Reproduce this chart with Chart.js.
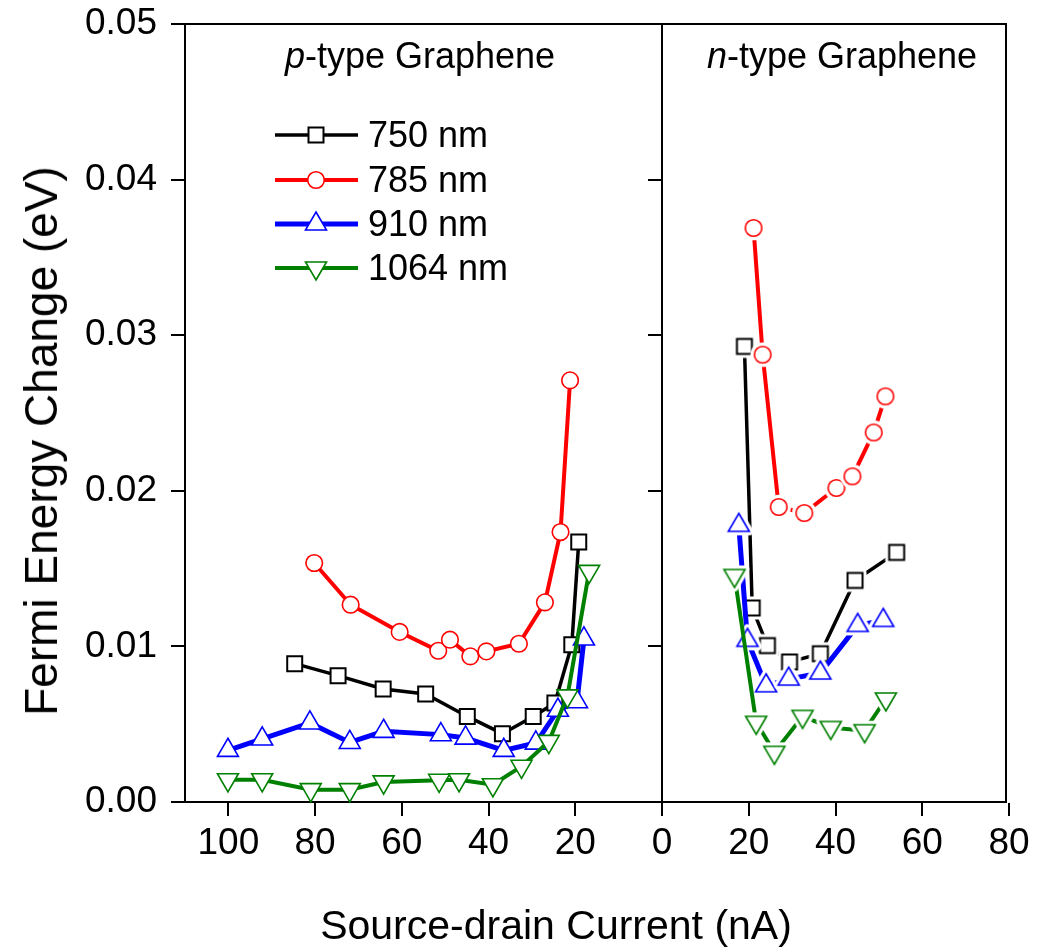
<!DOCTYPE html>
<html>
<head>
<meta charset="utf-8">
<script src="https://cdn.jsdelivr.net/npm/chart.js@4.4.1/dist/chart.umd.min.js"></script>
<style>
  body { margin: 0; background: #fff; }
  #wrap {
    position: relative;
    width: 1045px;
    height: 951px;
    overflow: hidden;
    font-family: "Liberation Sans", Arial, sans-serif;
    color: #000;
  }
  #wrap canvas { position: absolute; left: 0; top: 0; }
  .txt { position: absolute; white-space: nowrap; line-height: 1; }
  .panel-title { font-size: 36px; top: 37.5px; transform: translateX(-50%); }
  .x-title { font-size: 41px; left: 556px; top: 905px; transform: translateX(-50%); }
  .y-title {
    font-size: 46px;
    left: 41px;
    top: 441px;
    transform: translate(-50%, -50%) rotate(-90deg);
  }
</style>
</head>
<body>
<div id="wrap">
  <canvas id="pChart" width="1045" height="951"></canvas>
  <canvas id="nChart" width="1045" height="951"></canvas>
  <div class="txt panel-title" style="left:420px"><i>p</i>-type Graphene</div>
  <div class="txt panel-title" style="left:842px"><i>n</i>-type Graphene</div>
  <div class="txt x-title">Source-drain Current (nA)</div>
  <div class="txt y-title">Fermi Energy Change (eV)</div>
</div>
<script>
const FONT = '"Liberation Sans", Arial, sans-serif';

const WAVELENGTHS = ["750 nm", "785 nm", "910 nm", "1064 nm"];
const Y_TICKS = [0, 0.01, 0.02, 0.03, 0.04, 0.05];
const X_TICKS_P = [0, 20, 40, 60, 80, 100];
const X_TICKS_N = [0, 20, 40, 60, 80];

// p-type panel (current axis runs right to left)
const P_CURRENT_750 = [84.7, 74.7, 64.3, 54.5, 44.9, 36.8, 29.7, 24.7, 20.8, 19.2];
const P_ENERGY_750 = [0.00889, 0.00812, 0.00726, 0.00694, 0.0055, 0.00439, 0.0055, 0.00636, 0.01011, 0.01671];
const P_CURRENT_785 = [80.2, 71.8, 60.5, 51.6, 48.9, 44.2, 40.5, 33.0, 27.0, 23.4, 21.2];
const P_ENERGY_785 = [0.01536, 0.01268, 0.01093, 0.00972, 0.01043, 0.00936, 0.00968, 0.01017, 0.01283, 0.01735, 0.0271];
const P_CURRENT_910 = [100.1, 92.2, 81.2, 72.0, 64.2, 51.0, 45.3, 36.5, 29.1, 24.0, 19.6, 18.0];
const P_ENERGY_910 = [0.00332, 0.00405, 0.00508, 0.00383, 0.00454, 0.00433, 0.00411, 0.00332, 0.00379, 0.0059, 0.00645, 0.01048];
const P_CURRENT_1064 = [100.1, 92.2, 81.0, 72.0, 64.2, 51.4, 46.8, 39.0, 32.4, 26.1, 21.8, 16.8];
const P_ENERGY_1064 = [0.00143, 0.00143, 0.00079, 0.00079, 0.00129, 0.00139, 0.00143, 0.00111, 0.00229, 0.00389, 0.00682, 0.01482];

// n-type panel
const N_CURRENT_750 = [19.0, 20.8, 24.3, 29.4, 36.5, 44.5, 54.1];
const N_ENERGY_750 = [0.02928, 0.01247, 0.01005, 0.009, 0.00953, 0.01424, 0.01604];
const N_CURRENT_785 = [21.1, 23.2, 26.9, 32.8, 40.2, 43.9, 48.8, 51.5];
const N_ENERGY_785 = [0.03689, 0.02875, 0.01896, 0.01857, 0.02018, 0.02093, 0.02375, 0.02607];
const N_CURRENT_910 = [17.7, 19.7, 24.0, 29.2, 36.5, 45.1, 51.0];
const N_ENERGY_910 = [0.01778, 0.01039, 0.00747, 0.0079, 0.00829, 0.01135, 0.01167];
const N_CURRENT_1064 = [16.7, 21.7, 25.9, 32.4, 38.9, 46.7, 51.6];
const N_ENERGY_1064 = [0.01456, 0.00512, 0.00319, 0.0055, 0.00479, 0.00458, 0.00662];

const LOOK = {
  "750 nm": { color: "#000000", shape: "square", width: 3.5, order: 3 },
  "785 nm": { color: "#ff0000", shape: "circle", width: 4, order: 2 },
  "910 nm": { color: "#0000ff", shape: "triangle", width: 5, order: 1 },
  "1064 nm": { color: "#008000", shape: "triangleDown", width: 4, order: 0 },
};

function traceMarker(ctx, shape, x, y) {
  ctx.beginPath();
  if (shape === "square") {
    ctx.rect(x - 7.5, y - 7.5, 15, 15);
  } else if (shape === "circle") {
    ctx.arc(x, y, 8.3, 0, Math.PI * 2);
  } else {
    const dir = shape === "triangle" ? 1 : -1;
    ctx.moveTo(x, y - dir * 12);
    ctx.lineTo(x + 10.5, y + dir * 6);
    ctx.lineTo(x - 10.5, y + dir * 6);
    ctx.closePath();
  }
}

function drawMarker(ctx, shape, color, x, y, halo) {
  ctx.save();
  traceMarker(ctx, shape, x, y);
  if (halo) {
    ctx.lineJoin = "round";
    ctx.lineWidth = halo * 2;
    ctx.strokeStyle = "#fff";
    ctx.stroke();
  }
  ctx.fillStyle = "#fff";
  ctx.fill();
  ctx.lineJoin = "miter";
  ctx.lineWidth = shape === "square" ? 2 : 1.6;
  ctx.strokeStyle = color;
  ctx.stroke();
  ctx.restore();
}

// n-type symbols leave a small gap in the connecting line
function markerImage(shape, color) {
  const c = document.createElement("canvas");
  c.width = 40;
  c.height = 40;
  drawMarker(c.getContext("2d"), shape, color, 20, 20, 4);
  return c;
}

const BUILTIN = {
  square: { pointStyle: "rect", pointRadius: 10.6, pointRotation: 0 },
  circle: { pointStyle: "circle", pointRadius: 8.3, pointRotation: 0 },
  triangle: { pointStyle: "triangle", pointRadius: 12.1, pointRotation: 0 },
  triangleDown: { pointStyle: "triangle", pointRadius: 12.1, pointRotation: 180 },
};

function makeSeries(label, xs, ys, gapped) {
  const look = LOOK[label];
  const marker = gapped
    ? { pointStyle: markerImage(look.shape, look.color), pointRadius: 12, pointRotation: 0 }
    : BUILTIN[look.shape];
  return {
    label,
    data: xs.map((x, i) => ({ x, y: ys[i] })),
    borderColor: look.color,
    borderWidth: look.width,
    tension: 0,
    fill: false,
    order: look.order,
    clip: false,
    pointBackgroundColor: "#fff",
    pointBorderColor: look.color,
    pointBorderWidth: look.shape === "square" ? 2 : 1.6,
    ...marker,
  };
}

const framePlugin = {
  id: "frame",
  afterDraw(chart) {
    const { ctx, chartArea: a } = chart;
    ctx.save();
    ctx.strokeStyle = "#000";
    ctx.lineWidth = 2;
    ctx.beginPath();
    ctx.moveTo(a.left, a.top);
    ctx.lineTo(a.right, a.top);
    ctx.lineTo(a.right, a.bottom);
    ctx.stroke();
    ctx.restore();
  },
};

// legend: line + symbol + label, inside the p-type panel
const KEY_ROWS = [135, 180, 224, 268];
const keyPlugin = {
  id: "seriesKey",
  afterDraw(chart) {
    const ctx = chart.ctx;
    ctx.save();
    chart.data.datasets.forEach((ds, i) => {
      const look = LOOK[ds.label];
      const y = KEY_ROWS[i];
      ctx.strokeStyle = look.color;
      ctx.lineWidth = look.width;
      ctx.beginPath();
      ctx.moveTo(275, y);
      ctx.lineTo(358, y);
      ctx.stroke();
      drawMarker(ctx, look.shape, look.color, 316, y, 0);
      ctx.fillStyle = "#000";
      ctx.font = `36px ${FONT}`;
      ctx.textBaseline = "alphabetic";
      ctx.fillText(ds.label, 368, y + 11.5);
    });
    ctx.restore();
  },
};

function axisStyle() {
  return {
    grid: { drawOnChartArea: false, drawTicks: true, tickLength: 14, color: "#000", lineWidth: 2 },
    border: { display: true, color: "#000", width: 2 },
    ticks: { color: "#000", font: { family: FONT, size: 37 } },
  };
}

function xAxis(min, max, reverse, tickList, hideZero) {
  const base = axisStyle();
  return {
    ...base,
    type: "linear",
    min,
    max,
    reverse,
    ticks: {
      ...base.ticks,
      padding: 6,
      maxRotation: 0,
      callback: (v) => (hideZero && v === 0 ? "" : String(v)),
    },
    afterBuildTicks: (s) => { s.ticks = tickList.map((value) => ({ value })); },
    afterFit: (s) => { s.height = 149; s.paddingLeft = 0; s.paddingRight = 0; },
  };
}

const common = {
  responsive: false,
  animation: false,
  devicePixelRatio: 1,
  events: [],
  plugins: { legend: { display: false }, tooltip: { enabled: false } },
};

new Chart(document.getElementById("pChart"), {
  type: "line",
  data: {
    datasets: [
      makeSeries(WAVELENGTHS[0], P_CURRENT_750, P_ENERGY_750, false),
      makeSeries(WAVELENGTHS[1], P_CURRENT_785, P_ENERGY_785, false),
      makeSeries(WAVELENGTHS[2], P_CURRENT_910, P_ENERGY_910, false),
      makeSeries(WAVELENGTHS[3], P_CURRENT_1064, P_ENERGY_1064, false),
    ],
  },
  options: {
    ...common,
    layout: { autoPadding: false, padding: { top: 24, right: 383, bottom: 0, left: 0 } },
    scales: {
      x: xAxis(0, 110, true, X_TICKS_P, false),
      y: {
        ...axisStyle(),
        position: "left",
        min: 0,
        max: 0.05,
        ticks: {
          ...axisStyle().ticks,
          padding: 14,
          callback: (v) => v.toFixed(2),
        },
        afterBuildTicks: (s) => { s.ticks = Y_TICKS.map((value) => ({ value })); },
        afterFit: (s) => { s.width = 185; s.paddingTop = 0; s.paddingBottom = 0; },
      },
    },
  },
  plugins: [framePlugin, keyPlugin],
});

new Chart(document.getElementById("nChart"), {
  type: "line",
  data: {
    datasets: [
      makeSeries(WAVELENGTHS[0], N_CURRENT_750, N_ENERGY_750, true),
      makeSeries(WAVELENGTHS[1], N_CURRENT_785, N_ENERGY_785, true),
      makeSeries(WAVELENGTHS[2], N_CURRENT_910, N_ENERGY_910, true),
      makeSeries(WAVELENGTHS[3], N_CURRENT_1064, N_ENERGY_1064, true),
    ],
  },
  options: {
    ...common,
    layout: { autoPadding: false, padding: { top: 24, right: 39, bottom: 0, left: 648 } },
    scales: {
      x: xAxis(0, 79.3, false, X_TICKS_N, true),
      y: {
        ...axisStyle(),
        position: "left",
        min: 0,
        max: 0.05,
        ticks: { display: false },
        afterBuildTicks: (s) => { s.ticks = Y_TICKS.map((value) => ({ value })); },
        afterFit: (s) => { s.width = 14; s.paddingTop = 0; s.paddingBottom = 0; },
      },
    },
  },
  plugins: [framePlugin],
});
</script>
</body>
</html>
